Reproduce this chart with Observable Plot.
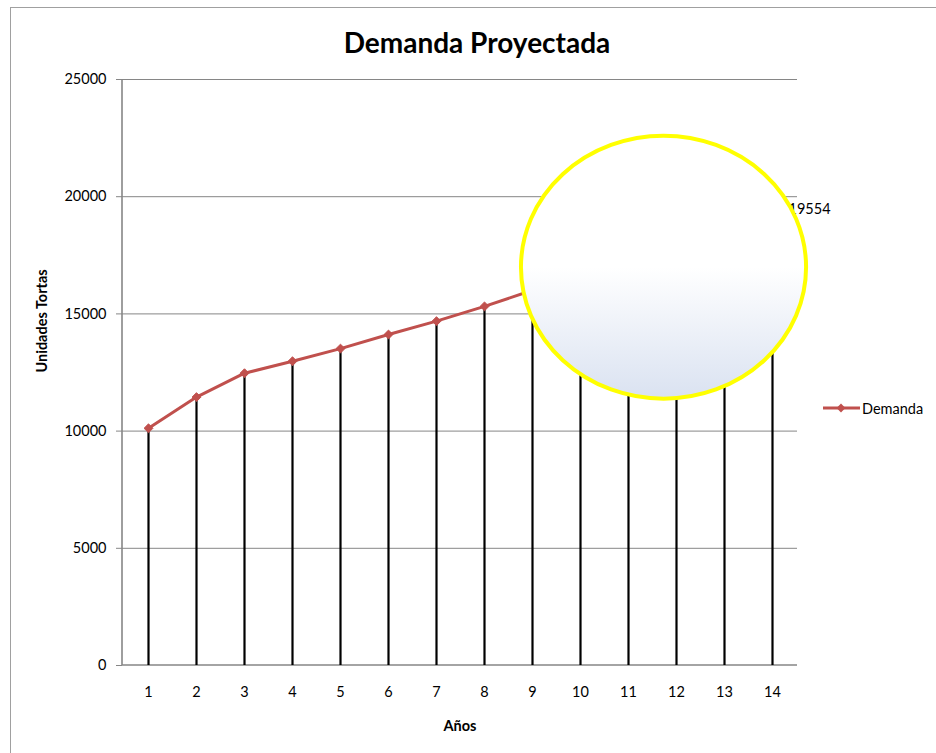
<!DOCTYPE html>
<html><head><meta charset="utf-8">
<script src="https://cdn.jsdelivr.net/npm/d3@7"></script>
<script src="https://cdn.jsdelivr.net/npm/@observablehq/plot@0.6"></script>
<style>
body{margin:0;background:#fff;}
#wrap{position:relative;width:936px;height:753px;overflow:hidden;font-family:Lato,"Open Sans",sans-serif;background:#fff;}
#frame{position:absolute;left:10px;top:7px;width:1000px;height:900px;border:1.5px solid #a0a0a0;box-sizing:border-box;}
#title{position:absolute;left:0;width:954px;top:25px;line-height:34px;text-align:center;font-weight:bold;font-size:28px;color:#000;}
#chart{position:absolute;left:0;top:0;}
#legend{position:absolute;left:823px;top:398px;height:20px;display:flex;align-items:center;font-size:14.5px;color:#000;}
#legend span{margin-left:2px;}
</style></head>
<body>
<div id="wrap">
  <div id="frame"></div>
  <div id="chart"></div>
  <div id="title">Demanda Proyectada</div>
  <div id="legend"><svg width="37" height="12"><line x1="0" x2="37" y1="6" y2="6" stroke="#C0504D" stroke-width="3"/><path d="M18,1.6L22.4,6L18,10.4L13.6,6Z" fill="#C0504D"/></svg><span>Demanda</span></div>
</div>
<script>
const anios = [1,2,3,4,5,6,7,8,9,10,11,12,13,14];
const demanda = [10120,11450,12470,12980,13520,14120,14690,15320,16010,16690,17360,18070,18800,19554];
const yTicks = [0,5000,10000,15000,20000,25000];
const etiquetaValor = "19554";

const data = anios.map((a,i)=>({anio:a, demanda:demanda[i]}));
const ultimo = [data[data.length-1]];

// yellow oval annotation, expressed in data units
const ovaloAnio = 11, ovaloDesp = 0.74, ovaloValor = 16970, ovaloRadioAnios = 2.97, ovaloRadioUnidades = 5610;

const gris = "#868686";

const plot = Plot.plot({
  width: 936,
  height: 753,
  marginLeft: 122,
  marginRight: 139,
  marginTop: 79,
  marginBottom: 88,
  style: {fontFamily: "Lato, 'Open Sans', sans-serif", fontSize: "14.5px", background: "transparent", color: "#000"},
  x: {type: "point", domain: anios, padding: 0.5},
  y: {domain: [0, 25000]},
  marks: [
    Plot.ruleY(yTicks.slice(1), {stroke: gris, strokeWidth: 1}),
    Plot.axisY(yTicks, {tickSize: 6, tickPadding: 10, stroke: gris, fill: "#000", label: null, tickFormat: d => String(d)}),
    Plot.axisX(anios, {tickSize: 0, tickPadding: 21, fill: "#000", label: null}),
    (index, scales, values, dims) => {
      const g = d3.create("svg:g");
      const {marginLeft, marginTop, marginBottom, width, height, marginRight} = dims;
      g.append("line").attr("x1", marginLeft).attr("x2", marginLeft).attr("y1", marginTop).attr("y2", height - marginBottom)
        .attr("stroke", gris).attr("stroke-width", 1.6);
      g.append("line").attr("x1", marginLeft).attr("x2", width - marginRight).attr("y1", height - marginBottom).attr("y2", height - marginBottom)
        .attr("stroke", gris).attr("stroke-width", 1.6);
      return g.node();
    },
    Plot.line(data, {x: "anio", y: "demanda", stroke: "#C0504D", strokeWidth: 3}),
    Plot.ruleX(data, {x: "anio", y1: 0, y2: "demanda", stroke: "#000", strokeWidth: 2.2}),
    Plot.dot(data, {x: "anio", y: "demanda", symbol: "diamond2", r: 4, fill: "#C0504D", stroke: "#C0504D", strokeWidth: 1}),
    Plot.text(ultimo, {x: "anio", y: "demanda", text: () => etiquetaValor, dx: 16, dy: 2, textAnchor: "start", fill: "#000"}),
    Plot.text(["Años"], {frameAnchor: "bottom", dy: 65, fontWeight: "bold", fill: "#000"}),
    Plot.text(["Unidades Tortas"], {frameAnchor: "left", dx: -80, rotate: -90, fontWeight: "bold", fill: "#000"}),
    (index, scales) => {
      const x = scales.x, y = scales.y;
      const step = x(anios[1]) - x(anios[0]);
      const cx = x(ovaloAnio) + ovaloDesp * step;
      const cy = y(ovaloValor);
      const rx = ovaloRadioAnios * step;
      const ry = y(0) - y(ovaloRadioUnidades);
      const g = d3.create("svg:g");
      const grad = g.append("defs").append("linearGradient").attr("id", "ovalGrad")
        .attr("x1", 0).attr("x2", 0).attr("y1", 0).attr("y2", 1);
      grad.append("stop").attr("offset", 0).attr("stop-color", "#ffffff");
      grad.append("stop").attr("offset", 0.5).attr("stop-color", "#ffffff");
      grad.append("stop").attr("offset", 1).attr("stop-color", "#dae2f1");
      g.append("ellipse").attr("cx", cx).attr("cy", cy).attr("rx", rx).attr("ry", ry)
        .attr("fill", "url(#ovalGrad)").attr("stroke", "#FFFF00").attr("stroke-width", 4);
      return g.node();
    }
  ]
});
document.getElementById("chart").appendChild(plot);
</script>
</body></html>
